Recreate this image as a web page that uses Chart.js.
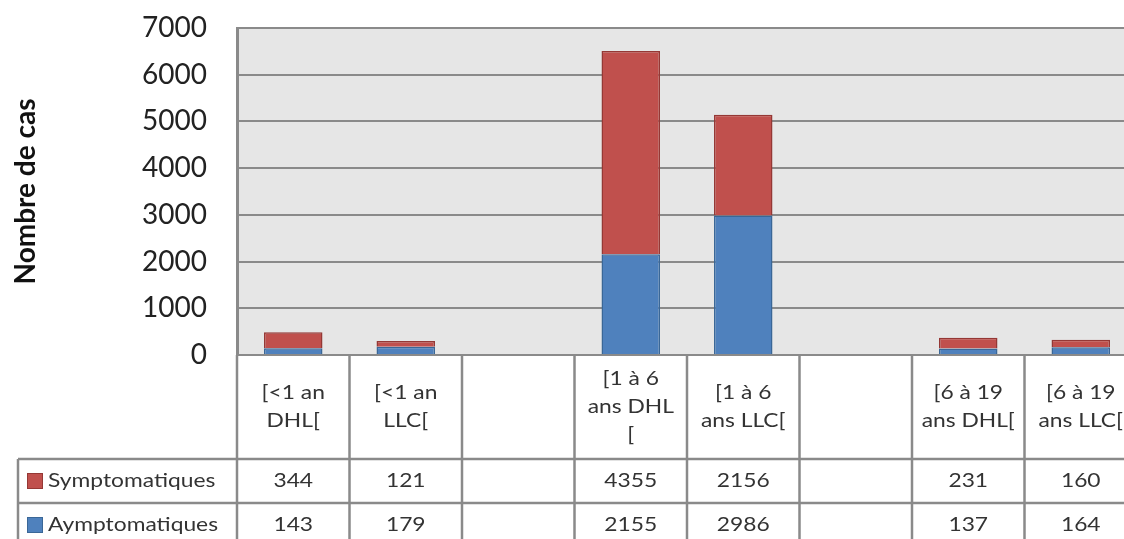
<!DOCTYPE html>
<html>
<head>
<meta charset="utf-8">
<script src="https://cdn.jsdelivr.net/npm/chart.js"></script>
<style>
  html, body { margin: 0; padding: 0; background: #fff; overflow: hidden; }
</style>
</head>
<body>
<canvas id="chart" width="1140" height="552"></canvas>
<script>
// Categories (empty columns are spacers between age groups)
const categories = [
    ['[<1 an', 'DHL['], ['[<1 an', 'LLC['], [''],
    ['[1 à 6', 'ans DHL', '['], ['[1 à 6', 'ans LLC['], [''],
    ['[6 à 19', 'ans DHL['], ['[6 à 19', 'ans LLC[']
];
const seriesNames = ['Symptomatiques', 'Aymptomatiques'];
const symptomatiques = [344, 121, null, 4355, 2156, null, 231, 160];
const asymptomatiques = [143, 179, null, 2155, 2986, null, 137, 164];
const yTicks = [0, 1000, 2000, 3000, 4000, 5000, 6000, 7000];

const RED = '#c0504d', RED_EDGE = '#953835';
const BLUE = '#4f81bd', BLUE_EDGE = '#3a6797';
const LINE = '#8a8a8a';
const FONT = 'Lato, "Open Sans", sans-serif';
const STRETCH = 1.2; // the original table text is a bit wider than Lato

function wideText(ctx, text, x, y, align) {
    ctx.save();
    ctx.scale(STRETCH, 1);
    ctx.textAlign = align;
    ctx.fillText(text, x / STRETCH, y);
    ctx.restore();
}

// grey plot background like the Excel original
const plotBackground = {
    id: 'plotBackground',
    beforeDraw(chart) {
        const { ctx, chartArea: a } = chart;
        ctx.save();
        ctx.fillStyle = '#e6e6e6';
        ctx.fillRect(a.left, a.top, a.right - a.left, a.bottom - a.top);
        ctx.restore();
    }
};

// data table under the plot: category labels + one row per series
const dataTable = {
    id: 'dataTable',
    afterDraw(chart) {
        const { ctx, chartArea: a, scales: { x } } = chart;
        const half = (x.getPixelForValue(1) - x.getPixelForValue(0)) / 2;
        const rowTops = [459, 503];
        const bottom = 547;
        const legendLeft = 18;

        ctx.save();
        ctx.strokeStyle = LINE;
        ctx.lineWidth = 2.5;

        // vertical column lines
        for (let i = 0; i <= categories.length; i++) {
            const px = x.getPixelForValue(i) - half;
            ctx.beginPath();
            ctx.moveTo(px, a.bottom);
            ctx.lineTo(px, bottom);
            ctx.stroke();
        }
        // legend column left edge
        ctx.beginPath();
        ctx.moveTo(legendLeft, rowTops[0]);
        ctx.lineTo(legendLeft, bottom);
        ctx.stroke();
        // horizontal row lines
        rowTops.concat([bottom]).forEach(py => {
            ctx.beginPath();
            ctx.moveTo(legendLeft, py);
            ctx.lineTo(chart.width, py);
            ctx.stroke();
        });

        // category labels
        ctx.fillStyle = '#333';
        ctx.font = '19px ' + FONT;
        ctx.textBaseline = 'middle';
        const midCat = (a.bottom + rowTops[0]) / 2;
        categories.forEach((lines, i) => {
            const cx = x.getPixelForValue(i);
            const y0 = midCat - (lines.length - 1) * 14;
            lines.forEach((t, k) => wideText(ctx, t, cx, y0 + k * 28, 'center'));
        });

        // series rows
        const rows = [symptomatiques, asymptomatiques];
        const fills = [RED, BLUE], edges = [RED_EDGE, BLUE_EDGE];
        rows.forEach((vals, r) => {
            const cy = rowTops[r] + 22;
            ctx.fillStyle = fills[r];
            ctx.fillRect(27, cy - 8, 16, 16);
            ctx.strokeStyle = edges[r];
            ctx.lineWidth = 1;
            ctx.strokeRect(27.5, cy - 7.5, 15, 15);
            ctx.fillStyle = '#333';
            wideText(ctx, seriesNames[r], 48, cy, 'left');
            vals.forEach((v, i) => {
                if (v !== null) wideText(ctx, String(v), x.getPixelForValue(i), cy, 'center');
            });
        });
        ctx.restore();
    }
};

new Chart(document.getElementById('chart'), {
    type: 'bar',
    data: {
        labels: categories,
        datasets: [
            {
                label: seriesNames[1],
                data: asymptomatiques,
                backgroundColor: BLUE,
                borderColor: BLUE_EDGE,
                borderWidth: 1.5,
                categoryPercentage: 1,
                barPercentage: 0.52
            },
            {
                label: seriesNames[0],
                data: symptomatiques,
                backgroundColor: RED,
                borderColor: RED_EDGE,
                borderWidth: 1.5,
                categoryPercentage: 1,
                barPercentage: 0.52
            }
        ]
    },
    options: {
        responsive: false,
        animation: false,
        events: [],
        layout: { padding: { top: 28, right: 3, bottom: 197, left: 0 } },
        plugins: {
            legend: { display: false },
            tooltip: { enabled: false }
        },
        scales: {
            x: {
                stacked: true,
                display: false
            },
            y: {
                stacked: true,
                min: 0,
                max: 7000,
                afterBuildTicks(scale) {
                    scale.ticks = yTicks.map(v => ({ value: v }));
                },
                afterFit(scale) {
                    scale.width = 237;
                    // tick padding would otherwise push the plot top down
                    scale.paddingTop = 0;
                    scale.paddingBottom = 0;
                },
                ticks: {
                    padding: 30,
                    color: '#222',
                    font: { family: FONT, size: 28 },
                    callback: v => String(v)
                },
                grid: {
                    color: LINE,
                    lineWidth: 2,
                    drawTicks: false
                },
                border: { display: true, color: LINE, width: 3 },
                title: {
                    display: true,
                    text: 'Nombre de cas',
                    color: '#111',
                    font: { family: FONT, size: 28, weight: 'bold' },
                    padding: { top: 9, bottom: 0 }
                }
            }
        }
    },
    plugins: [plotBackground, dataTable]
});
</script>
</body>
</html>
